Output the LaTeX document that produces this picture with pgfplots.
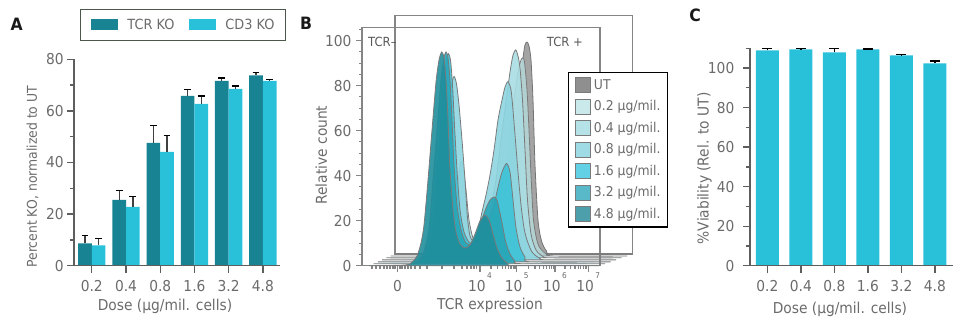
\documentclass[border=0pt]{standalone}
\usepackage{pgfplots}
\pgfplotsset{compat=1.18}
\usepackage{fontspec}
\setmainfont{DejaVu Sans}[FakeStretch=0.92]
\definecolor{tcr}{HTML}{178393}
\definecolor{cd3}{HTML}{29C0D9}
\definecolor{axg}{HTML}{5E5E5E}
\definecolor{labg}{HTML}{6B6B6B}
\definecolor{boxg}{HTML}{858585}
\definecolor{legA}{HTML}{4A574A}
\definecolor{cline}{HTML}{7A7A7A}
\definecolor{legbord}{HTML}{7A7A7A}
\definecolor{cUT}{HTML}{9A9A9A}\definecolor{lUT}{HTML}{8F8F8F}
\definecolor{c02}{HTML}{B5D6D7}\definecolor{l02}{HTML}{C9E9EA}
\definecolor{c04}{HTML}{A9DDE3}\definecolor{l04}{HTML}{B5E2E6}
\definecolor{c08}{HTML}{8DD5E0}\definecolor{l08}{HTML}{9FDBE4}
\definecolor{c16}{HTML}{3EC3D8}\definecolor{l16}{HTML}{62D0E5}
\definecolor{c32}{HTML}{27A5B7}\definecolor{l32}{HTML}{59B9C8}
\definecolor{c48}{HTML}{1F8E9C}\definecolor{l48}{HTML}{4E9FAC}
\newcommand{\fs}[1]{\fontsize{#1}{#1}\selectfont}
\newcommand{\sups}[1]{\hspace{1.5pt}\raisebox{13pt}{\fs{8}#1}}
\pgfplotsset{
  myax/.style={scale only axis, axis on top,
    axis line style={draw=axg, line width=1.3pt},
    tick style={draw=axg, line width=1.3pt}, tick align=outside,
    major tick length=7pt, minor tick length=4pt,
    ticklabel style={font=\fs{15}, text=labg, inner sep=0pt},
    /pgf/number format/assume math mode=true,
    label style={font=\fs{15}, text=labg, inner sep=0pt}},
  barleg/.style={legend image code/.code={\fill[##1] (0pt,-5.3pt) rectangle (27pt,5.3pt);}},
  curve/.style={smooth, tension=0.45, draw=cline, line width=0.8pt, fill opacity=0.9, forget plot},
}
\begin{document}
\begin{tikzpicture}
\path[use as bounding box] (0,0) rectangle (957pt,-320pt);
% ---------------- Panel A
\begin{axis}[myax, at={(74pt,-265.7pt)}, anchor=south west, width=206pt, height=206.4pt,
  axis lines*=left, xmin=-0.52, xmax=5.5, ymin=0, ymax=80,
  xtick={0,...,5}, xticklabels={0.2,0.4,0.8,1.6,3.2,4.8},
  ytick={0,20,...,80}, minor ytick={10,30,50,70},
  xticklabel style={yshift=-7.3pt}, yticklabel style={xshift=-3.2pt},
  xlabel={Dose (µg/mil. cells)}, ylabel={Percent KO, normalized to UT},
  xlabel style={at={(axis description cs:0.442,-0.215)}, anchor=base},
  ylabel style={at={(axis description cs:-0.18,0.431)}, anchor=base, font=\fs{13.5}},
  legend columns=2,
  legend style={at={(0.529,1.168)}, anchor=center, draw=legA, line width=1pt, fill=white,
    font=\fs{14}, text=labg, inner xsep=11pt, inner ysep=9.5pt, nodes={inner sep=0pt},
    /tikz/every odd column/.append style={column sep=9pt},
    /tikz/every even column/.append style={column sep=15pt}},
]
% TCR KO bars sit 0.2 units left of each dose position, CD3 KO 0.2 units right
\addplot[ybar, bar width=13.7pt, bar shift=0pt, fill=tcr, draw=none, forget plot,
  error bars/.cd, y dir=plus, y explicit,
  error bar style={draw=black!75, line width=1.3pt},
  error mark options={rotate=90, mark size=3.4pt, line width=1.3pt, draw=black}]
  coordinates {(-0.2,8.7) +- (0,2.9) (0.8,25.5) +- (0,3.6) (1.8,47.6) +- (0,6.8)
               (2.8,65.8) +- (0,2.4) (3.8,71.6) +- (0,1.2) (4.8,73.8) +- (0,1.2)};
\addplot[ybar, bar width=13.7pt, bar shift=0pt, fill=cd3, draw=none, forget plot,
  error bars/.cd, y dir=plus, y explicit,
  error bar style={draw=black!75, line width=1.3pt},
  error mark options={rotate=90, mark size=3.4pt, line width=1.3pt, draw=black}]
  coordinates {(0.2,7.9) +- (0,2.6) (1.2,22.8) +- (0,3.9) (2.2,44.1) +- (0,6.3)
               (3.2,62.7) +- (0,3.1) (4.2,68.5) +- (0,1.2) (5.2,71.6) +- (0,0.5)};
\addlegendimage{barleg, fill=tcr, draw=none}\addlegendentry{TCR KO}
\addlegendimage{barleg, fill=cd3, draw=none}\addlegendentry{CD3 KO}
\end{axis}
% ---------------- Panel B back box
\begin{axis}[scale only axis, at={(395pt,-254pt)}, anchor=south west, width=237.7pt, height=238.3pt,
  xmin=0, xmax=1, ymin=0, ymax=1, ticks=none, axis line style={draw=boxg, line width=1.2pt}]
\end{axis}
% ---------------- Panel B front
\begin{axis}[scale only axis, at={(362pt,-265.7pt)}, anchor=south west, width=238pt, height=238.4pt,
  xmin=0, xmax=238, ymin=0, ymax=105.95, clip=false,
  axis line style={draw=boxg, line width=1.2pt},
  tick style={draw=boxg, line width=1.1pt}, tick align=outside, tick pos=left,
  major tick length=6pt, minor tick length=3pt,
  xtick={35.5,118,154.7,193,226.3},
  xticklabels={0,10\sups{4},10\sups{5},10\sups{6},10\sups{7}},
  minor xtick={10,14,18,22,25,28,31,33,38,40,43,46,49,53,58,65,80,92,100,105,109,112,114.5,
    129,135.5,140.1,143.7,146.6,149,151.1,153,166.2,173,177.8,181.5,184.5,187.1,189.3,191.2,
    203,208.9,213,216.3,218.9,221.1,223.1,224.8},
  ytick={0,20,...,100}, minor ytick={5,10,...,105},
  ticklabel style={font=\fs{15}, text=labg, inner sep=0pt},
  /pgf/number format/assume math mode=true,
  xticklabel style={text height=11pt, anchor=north, yshift=-9pt},
  yticklabel style={xshift=-4.3pt},
  label style={font=\fs{15}, text=labg, inner sep=0pt},
  xlabel={TCR expression}, ylabel={Relative count},
  xlabel style={at={(axis description cs:0.538,-0.184)}, anchor=base},
  ylabel style={at={(axis description cs:-0.148,0.464)}, anchor=base},
  legend cell align=left,
  legend style={at={(0.864,0.814)}, anchor=north west, draw=black, line width=1.1pt, fill=white,
    font=\fs{13.5}, text=labg, inner xsep=7pt, inner ysep=5pt, nodes={inner sep=0pt},
    row sep=5.7pt, /tikz/every odd column/.append style={column sep=3pt}},
  legend image code/.code={\draw[#1, draw=legbord, line width=0.8pt] (0pt,-7.5pt) rectangle (15pt,7.5pt);},
]
\addplot[curve, fill=cUT, draw=black!55] coordinates {(33,5.2) (75,5.2) (108,5.4) (123,7.0) (133,11.4) (141,22.5) (147,38.1) (152,55.9) (157,75.9) (161,92.3) (163,98.1) (165,99.4) (167,97.6) (169,91.4) (171,73.6) (173,44.8) (176,20.3) (179.5,11.0) (184.5,6.5) (192,5.2) (270.7,5.2)} -- cycle;
\addplot[curve, fill=c02] coordinates {(28.7,4.3) (70,4.3) (88,4.8) (98,7.0) (104,9.2) (110,8.8) (118,9.6) (126,13.6) (134,22.5) (141,38.1) (147,55.9) (152,73.6) (156,86.1) (159,91.4) (160.7,92.3) (162.5,90.5) (165,78.1) (167,60.3) (169,40.3) (171.5,20.3) (176,9.6) (183,5.6) (193,4.3) (265.2,4.3)} -- cycle;
\addplot[curve, fill=c04] coordinates {(24.4,3.5) (64,3.5) (76,4.3) (84,6.1) (90,11.4) (94,24.8) (97,40.3) (99,46.1) (101,44.8) (104,33.6) (107,20.3) (111,12.3) (116,10.1) (122,13.2) (128,23.9) (134,38.1) (139,55.9) (144,72.8) (148,86.1) (151,93.6) (153.7,95.9) (156,93.2) (158,87.9) (160.5,73.6) (163,51.4) (165.5,29.2) (169,14.1) (174,7.0) (181,4.1) (190,3.5) (259.7,3.5)} -- cycle;
\addplot[curve, fill=c08] coordinates {(20,2.6) (58,2.6) (66,3.9) (71,7.0) (75,13.2) (78,22.5) (81,38.1) (84,55.9) (87,71.4) (89.5,80.3) (92,84.1) (94.5,80.8) (97,71.4) (100,55.9) (103,38.1) (105.5,21.2) (108,13.2) (111,11.0) (115,13.2) (120,23.9) (124,31.4) (128,40.3) (132,51.4) (136,64.8) (140,73.6) (143,79.4) (146,81.8) (149,78.1) (151,69.2) (153,58.1) (156,41.6) (159,27.0) (162,16.8) (165,11.4) (170,6.1) (178,3.2) (186,2.6) (254.2,2.6)} -- cycle;
\addplot[curve, fill=c16] coordinates {(15.8,1.7) (52,1.7) (60,3.0) (65,6.1) (69,12.3) (72,22.5) (75,38.1) (78,60.3) (82,82.5) (84.5,91.4) (86.3,94.3) (88.5,91.4) (90.5,80.3) (92.5,62.5) (95,42.5) (98,24.8) (102,15.0) (107,10.5) (112,9.6) (117,11.0) (122,15.0) (127,20.3) (132,27.0) (136,34.9) (140,41.6) (144.5,45.4) (148,41.6) (151,29.2) (154,16.8) (158,8.3) (163,3.9) (169,1.7) (248.7,1.7)} -- cycle;
\addplot[curve, fill=c32] coordinates {(11.5,0.9) (48,0.9) (56,2.1) (61,5.2) (65,11.4) (68,20.3) (71,38.1) (75,60.3) (79,82.5) (82,92.3) (84,95.0) (86,92.3) (88,82.5) (90,64.8) (92,44.8) (95,27.0) (99,15.9) (104,10.1) (109,9.6) (114,13.2) (119,19.4) (124,25.6) (128,29.2) (132,30.5) (135,29.2) (138,23.4) (141,16.8) (144,10.1) (148,5.2) (153,2.1) (159,0.9) (243.2,0.9)} -- cycle;
\addplot[curve, fill=c48] coordinates {(7,0) (43,0.3) (50,1.6) (55,4.3) (59,10.1) (62,18.1) (66,38.1) (70,60.3) (74,81.6) (77,91.4) (79.7,95.0) (82,92.3) (84,82.5) (86,64.8) (88,42.5) (91,24.8) (94,15.0) (98,9.6) (103,7.9) (108,9.2) (113,14.1) (118,19.9) (123,22.5) (127,20.3) (131,14.1) (135,7.9) (140,3.4) (146,1.0) (153,0) (237.7,0)} -- cycle;
\addlegendimage{fill=lUT}\addlegendentry{UT}
\addlegendimage{fill=l02}\addlegendentry{0.2 µg/mil.}
\addlegendimage{fill=l04}\addlegendentry{0.4 µg/mil.}
\addlegendimage{fill=l08}\addlegendentry{0.8 µg/mil.}
\addlegendimage{fill=l16}\addlegendentry{1.6 µg/mil.}
\addlegendimage{fill=l32}\addlegendentry{3.2 µg/mil.}
\addlegendimage{fill=l48}\addlegendentry{4.8 µg/mil.}
\node[anchor=west, inner sep=0pt, font=\fs{12.6}, text=black!65] at (axis cs:6,99.6) {TCR–};
\node[anchor=west, inner sep=0pt, font=\fs{12.6}, text=black!65] at (axis cs:184.7,99.6) {TCR +};
\end{axis}
% ---------------- Panel C
\begin{axis}[myax, at={(750pt,-265.7pt)}, anchor=south west, width=203pt, height=217.4pt,
  axis lines*=left, xmin=-0.52, xmax=5.54, ymin=0, ymax=110,
  xtick={0,...,5}, xticklabels={0.2,0.4,0.8,1.6,3.2,4.8},
  ytick={0,20,...,100}, minor ytick={10,30,...,110},
  xticklabel style={yshift=-7.3pt}, yticklabel style={xshift=-8.5pt},
  xlabel={Dose (µg/mil. cells)}, ylabel={\%Viability (Rel. to UT)},
  xlabel style={at={(axis description cs:0.443,-0.222)}, anchor=base},
  ylabel style={at={(axis description cs:-0.204,0.448)}, anchor=base},
]
\addplot[ybar, bar width=23pt, fill=cd3, draw=none,
  error bars/.cd, y dir=plus, y explicit,
  error bar style={draw=black, line width=1.3pt},
  error mark options={rotate=90, mark size=5pt, line width=1.3pt, draw=black}]
  coordinates {(0,108.9) +- (0,0.9) (1,109.4) +- (0,0.4) (2,107.9) +- (0,1.9)
               (3,109.4) +- (0,0.2) (4,106.4) +- (0,0.4) (5,102.4) +- (0,1.1)};
\end{axis}
\node[font=\bfseries\fs{17}, inner sep=0pt, text=black!90] at (16.7pt,-24.5pt) {A};
\node[font=\bfseries\fs{17}, inner sep=0pt, text=black!90] at (306pt,-23.3pt) {B};
\node[font=\bfseries\fs{17}, inner sep=0pt, text=black!90] at (695pt,-15.3pt) {C};
\end{tikzpicture}
\end{document}
